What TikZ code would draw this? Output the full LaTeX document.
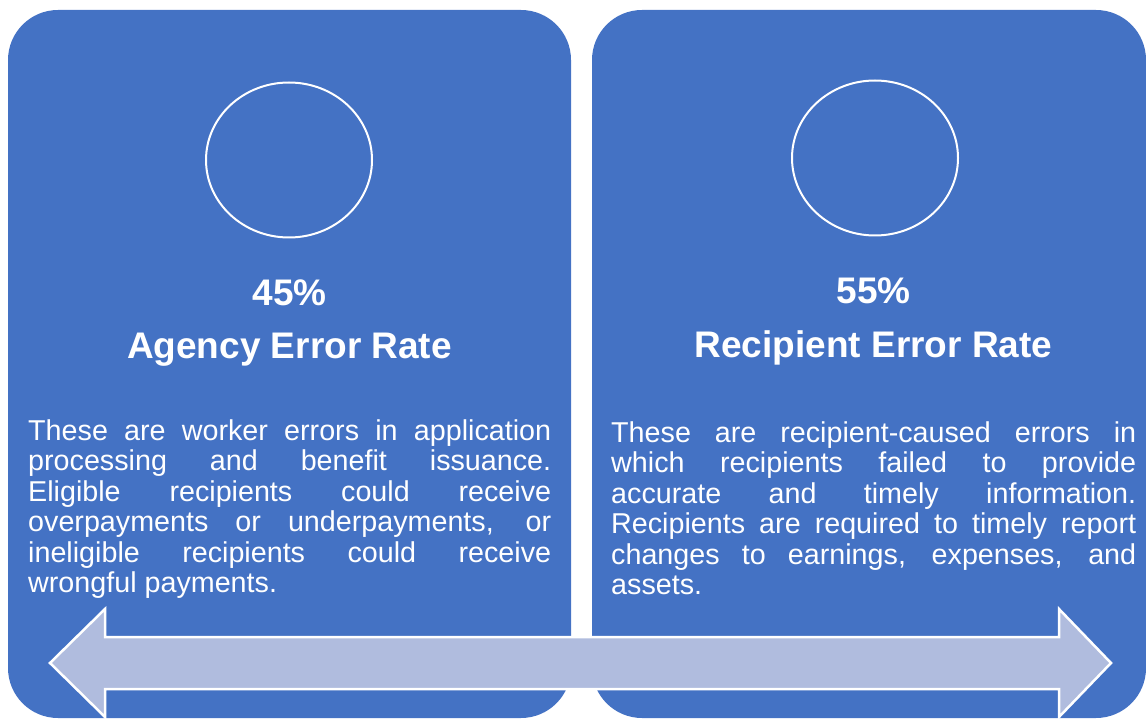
\documentclass[tikz,border=0pt]{standalone}
\usepackage{fontspec}
\setmainfont{Liberation Sans}
\usetikzlibrary{positioning, shapes.geometric}
\tolerance=9999
\hbadness=10000
\tikzset{
    Panel/.style = {
        fill=boxBlue, rounded corners=50pt,
        minimum width=#1, minimum height=708pt, inner sep=0pt
    },
    Ring/.style = {
        draw=white, line width=2pt, ellipse,
        minimum width=166pt, minimum height=155pt, inner sep=0pt
    },
    Heading/.style = {
        text=white, font=\fontsize{37}{44}\selectfont\bfseries,
        anchor=base, inner sep=0pt
    },
    Body/.style = {
        text=white, font=\fontsize{28.7}{30.4}\selectfont,
        text width=#1, align=justify, anchor=north west, inner sep=0pt
    },
    Band/.style = {
        fill=bandFill, draw=white, line width=2.5pt, line join=miter
    }
}
\definecolor{boxBlue}{HTML}{4472C4}
\definecolor{bandFill}{HTML}{B0BCDE}

\begin{document}
\begin{tikzpicture}[x=1pt, y=-1pt]
    \useasboundingbox (0,0) rectangle (1146,719);
    \node [Panel=563pt] (panelA) at (289.5,364) {};
    \node [Panel=554pt] (panelR) at (869,364) {};
    \node [Ring] (ringA) at (289,160) {};
    \node [Ring] (ringR) at (875,158) {};
    \node [Heading] (pctA) at (289.5,306) {45\%};
    \node [Heading] (titleA) at (289.5,358) {Agency Error Rate};
    \node [Heading] (pctR) at (873.5,304) {55\%};
    \node [Heading] (titleR) at (873.5,357) {Recipient Error Rate};
    \node [Body=523pt] (textA) at (28,419.5) {These are worker errors in application\linebreak
      processing and benefit issuance.\linebreak
      Eligible recipients could receive\linebreak
      overpayments or underpayments, or\linebreak
      ineligible recipients could receive\linebreak
      wrongful payments.};
    \node [Body=525pt] (textR) at (611,421.5) {These are recipient-caused errors in\linebreak
      which recipients failed to provide\linebreak
      accurate and timely information.\linebreak
      Recipients are required to timely report\linebreak
      changes to earnings, expenses, and\linebreak
      assets.};
    % double arrow across the bottom
    \draw [Band] (50,663) -- (105,609) -- (105,637) -- (1059,637) -- (1059,609)
      -- (1111,663) -- (1059,717) -- (1059,689) -- (105,689) -- (105,717) -- cycle;
\end{tikzpicture}
\end{document}
